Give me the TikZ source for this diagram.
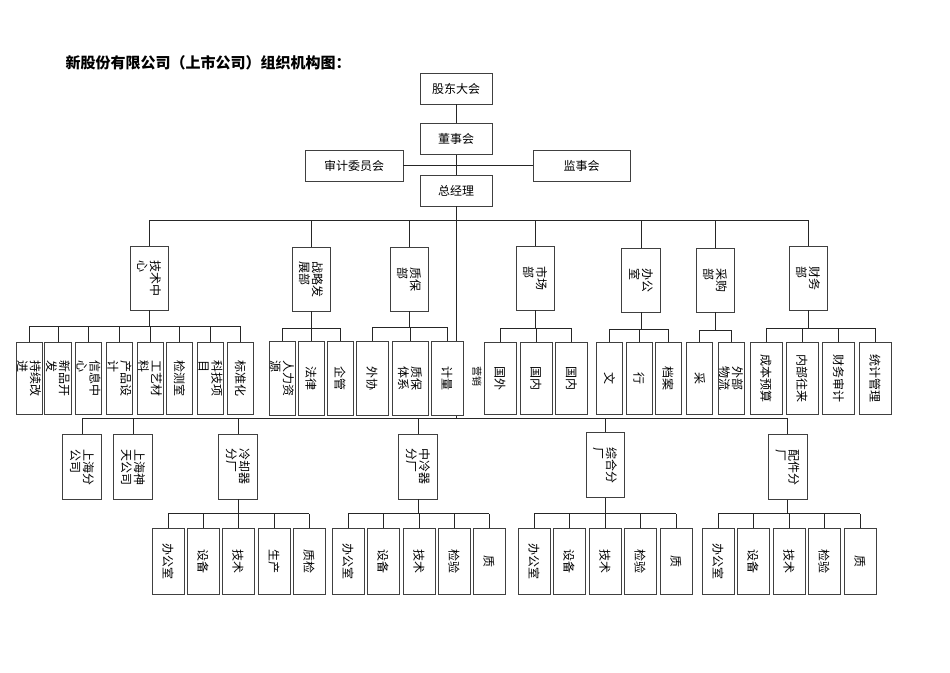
\documentclass[tikz,border=0pt]{standalone}
\usepackage{fontspec}
\setmainfont{Noto Sans CJK SC}
\begin{document}
\begin{tikzpicture}[x=1pt,y=-1pt,
  ln/.style={line width=0.7pt,draw=black!85},
  ob/.style={draw=black!75,line width=0.9pt,rotate=-90,inner sep=1pt,align=left,font=\fontsize{12}{13}\selectfont,fill=white},
  hb/.style={draw=black!75,line width=0.9pt,font=\fontsize{12}{13}\selectfont,minimum height=31pt,inner sep=1pt}]
\useasboundingbox (0,0) rectangle (950,672);
\newcommand\ob[6]{\node[ob,minimum width=#5pt,minimum height=#4pt] (#1) at (#2,#3) {#6};}
\node[anchor=west,font=\fontsize{15}{16}\selectfont\bfseries] (title) at (62,63) {新股份有限公司（上市公司）组织机构图：};
% top
\node[hb,minimum width=72pt] (gd) at (456,88.5) {股东大会};
\node[hb,minimum width=72pt] (ds) at (456,139) {董事会};
\node[hb,minimum width=98pt] (sj) at (354,165.5) {审计委员会};
\node[hb,minimum width=97pt] (js) at (581.5,165.5) {监事会};
\node[hb,minimum width=72pt] (zj) at (456,190.5) {总经理};
\draw[ln] (gd) -- (ds);
\draw[ln] (sj.east) -- (js.west);
\draw[ln] (ds) -- (zj);
% level 1
\ob{tc}{149}{278}{38}{64}{技术中\\心}
\ob{zl}{311}{279}{38}{64}{战略发\\展部}
\ob{zb}{409}{279}{38}{64}{质保\\部}
\ob{sc}{535}{278}{38}{64}{市场\\部}
\ob{bg}{641}{280}{39}{64}{办公\\室}
\ob{cg}{715}{280}{38}{64}{采购\\部}
\ob{cw}{808}{278}{38}{64}{财务\\部}
\coordinate (b0) at (0,220);
\coordinate (b9) at (0,418);
\coordinate (tk) at (zj.south |- b9);
\draw[ln] (zj.south) -- (tk);
\draw[ln] (tc.west |- b0) -- (cw.west |- b0);
\foreach \n in {tc,zl,zb,sc,bg,cg,cw} \draw[ln] (\n.west) -- (\n.west |- b0);
\node[rotate=-90,font=\fontsize{10}{11}\selectfont,inner sep=0pt] (yx) at (477,376) {营销};
% level 2
\ob{a1}{29}{378}{26}{72}{持续改\\进}
\ob{a2}{58}{378}{26}{72}{新品开\\发}
\ob{a3}{88.5}{378}{26}{72}{信息中\\心}
\ob{a4}{119.5}{378}{26}{72}{产品设\\计}
\ob{a5}{150}{378}{26}{72}{工艺材\\料}
\ob{a6}{179.5}{378}{26}{72}{检测室}
\ob{a7}{210.5}{378}{26}{72}{科技项\\目}
\ob{a8}{240.5}{378}{26}{72}{标准化}
\ob{z1}{282}{378}{26}{74}{人力资\\源}
\ob{z2}{311}{378}{26}{74}{法律}
\ob{z3}{340}{378}{26}{74}{企管}
\ob{q1}{372}{378}{32}{74}{外协}
\ob{q2}{410}{378}{36}{74}{质保\\体系}
\ob{q3}{447}{378}{32}{74}{计量}
\ob{s1}{500}{378}{32}{72}{国外}
\ob{s2}{536}{378}{32}{72}{国内}
\ob{s3}{571.5}{378}{32}{72}{国内}
\ob{o1}{609.5}{378}{26}{72}{文}
\ob{o2}{639}{378}{26}{72}{行}
\ob{o3}{668}{378}{26}{72}{档案}
\ob{p1}{699.5}{378}{26}{72}{采}
\ob{p2}{731}{378}{26}{72}{外部\\物流}
\ob{f1}{766}{378}{32}{72}{成本预算}
\ob{f2}{802}{378}{32}{72}{内部往来}
\ob{f3}{838.5}{378}{32}{72}{财务审计}
\ob{f4}{875}{378}{32}{72}{统计管理}
\coordinate (c1) at (0,326);
\coordinate (c2) at (0,328);
\coordinate (c3) at (0,327);
\coordinate (c4) at (0,328);
\coordinate (c5) at (0,329);
\coordinate (c6) at (0,330);
\coordinate (c7) at (0,328);
\foreach \p/\f/\l/\c/\ks in {tc/a1/a8/c1/{a1,a2,a3,a4,a5,a6,a7,a8},zl/z1/z3/c2/{z1,z2,z3},zb/q1/q3/c3/{q1,q2,q3},sc/s1/s3/c4/{s1,s2,s3},bg/o1/o3/c5/{o1,o2,o3},cg/p1/p2/c6/{p1,p2},cw/f1/f4/c7/{f1,f2,f3,f4}}{
  \draw[ln] (\p.east) -- (\p.east |- \c);
  \draw[ln] (\f.west |- \c) -- (\l.west |- \c);
  \foreach \k in \ks \draw[ln] (\k.west) -- (\k.west |- \c);
}
% bottom branch
\ob{m1}{82}{467}{39}{65}{上海分\\公司}
\ob{m2}{133}{467}{39}{65}{上海神\\天公司}
\ob{m3}{238}{466.5}{39}{65}{冷却器\\分厂}
\ob{m4}{418}{466.5}{39}{65}{中冷器\\分厂}
\ob{m5}{605}{465}{38}{65}{综合分\\厂}
\ob{m6}{787.5}{467}{39}{65}{配件分\\厂}
\draw[ln] (m1.west |- b9) -- (m6.west |- b9);
\foreach \n in {m1,m2,m3,m4,m5,m6} \draw[ln] (\n.west) -- (\n.west |- b9);
\coordinate (d0) at (0,513.5);
\foreach \p/\i/\x in {m3/1/168,m3/2/203,m3/3/238,m3/4/274,m3/5/309,
  m4/1/348,m4/2/383,m4/3/419,m4/4/454,m4/5/489,
  m5/1/534,m5/2/569,m5/3/605,m5/4/640,m5/5/676,
  m6/1/718,m6/2/753,m6/3/789,m6/4/824,m6/5/860}{
  \ob{\p k\i}{\x}{561}{32}{66}{}
}
\foreach \p in {m3,m4,m5,m6}{
  \draw[ln] (\p.east) -- (\p.east |- d0);
  \draw[ln] (\p k1.west |- d0) -- (\p k5.west |- d0);
  \foreach \i in {1,...,5} \draw[ln] (\p k\i.west) -- (\p k\i.west |- d0);
}
\foreach \p/\t in {m3/{办公室,设备,技术,生产,质检},m4/{办公室,设备,技术,检验,质},m5/{办公室,设备,技术,检验,质},m6/{办公室,设备,技术,检验,质}}{
  \foreach \s [count=\i] in \t \node[rotate=-90,font=\fontsize{12}{13}\selectfont] at (\p k\i) {\s};
}
\end{tikzpicture}
\end{document}
